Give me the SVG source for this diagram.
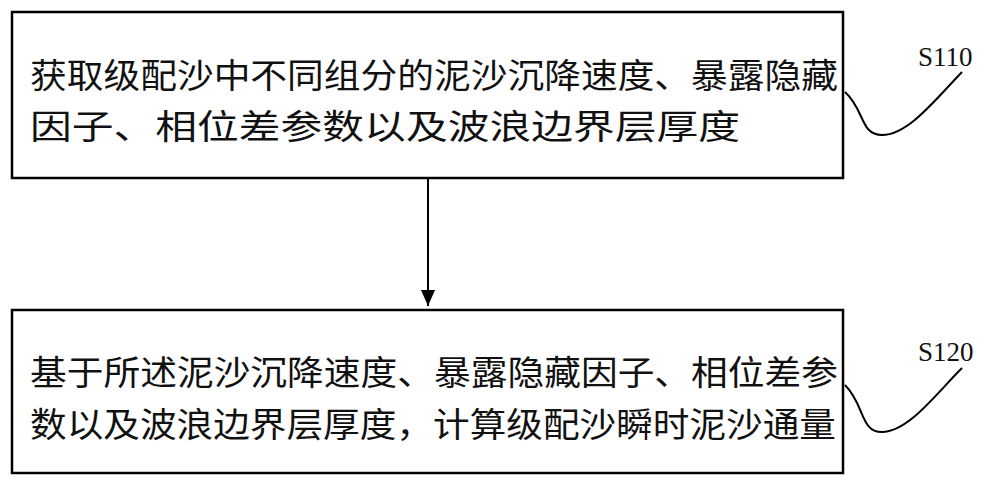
<svg xmlns="http://www.w3.org/2000/svg" width="1000" height="485" viewBox="0 0 1000 485">
<style>
.box{fill:#fff;stroke:#000;stroke-width:2.5}
.t{font-family:"Noto Sans CJK SC",sans-serif;font-size:34px;fill:#111}
.lbl{font-family:"Liberation Serif",serif;font-size:27px;fill:#111}
.ln{fill:none;stroke:#000;stroke-width:2}
</style>
<defs><marker id="ah" markerWidth="12" markerHeight="14" refX="6" refY="14" orient="auto" markerUnits="userSpaceOnUse"><path d="M0,0 L6,14 L12,0 Z" fill="#000" transform="rotate(-90 6 7) translate(0 0)"/></marker>
<marker id="a2" markerWidth="14" markerHeight="16" refX="7" refY="16" orient="0" markerUnits="userSpaceOnUse"><path d="M0,0 L7,16 L14,0 Z" fill="#000"/></marker></defs>
<rect width="1000" height="485" fill="#fff"/>
<g id="connectors">
<line class="ln" x1="428" y1="179" x2="428" y2="306" marker-end="url(#a2)"/>
<path class="ln" d="M845,92 C865,110 860,135 882,135 C908,135 935,100 962,72"/>
<path class="ln" d="M845,385 C865,405 860,432 882,432 C908,432 935,395 962,368"/>
</g>
<g id="S110">
<rect class="box" x="12" y="12" width="831" height="166"/>
<text class="t" x="30" y="88" textLength="808" lengthAdjust="spacingAndGlyphs">获取级配沙中不同组分的泥沙沉降速度、暴露隐藏</text>
<text class="t" x="30" y="139" textLength="710" lengthAdjust="spacingAndGlyphs">因子、相位差参数以及波浪边界层厚度</text>
<text class="lbl" x="918" y="66">S110</text>
</g>
<g id="S120">
<rect class="box" x="12" y="310" width="831" height="163"/>
<text class="t" x="30" y="385" textLength="808" lengthAdjust="spacingAndGlyphs">基于所述泥沙沉降速度、暴露隐藏因子、相位差参</text>
<text class="t" x="30" y="437" textLength="806" lengthAdjust="spacingAndGlyphs">数以及波浪边界层厚度，计算级配沙瞬时泥沙通量</text>
<text class="lbl" x="918" y="361">S120</text>
</g>
</svg>
